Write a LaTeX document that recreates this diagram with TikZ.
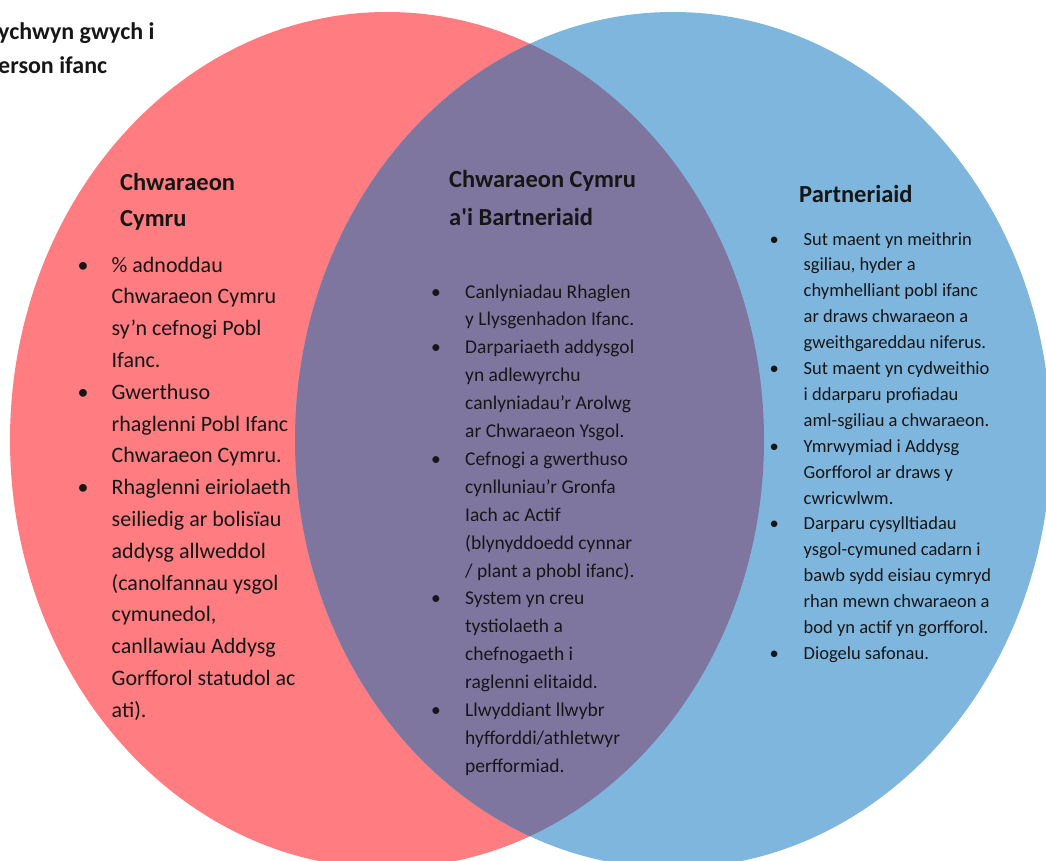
\documentclass[tikz,border=0pt]{standalone}
\usepackage{fontspec}
\setmainfont{Carlito}
\definecolor{vennred}{RGB}{255,124,128}
\definecolor{vennblue}{RGB}{126,182,222}
\definecolor{vennpurple}{RGB}{127,118,160}
\definecolor{inktext}{RGB}{22,22,22}
% one line with a bullet, one line that carries on
\newcommand{\bitem}[1]{\hbox{\makebox[34pt][l]{\textbullet}#1}}
\newcommand{\bcont}[1]{\hbox{\hspace*{34pt}#1}}
\begin{document}
\begin{tikzpicture}[x=1pt,y=-1pt,
	txt/.style={anchor=base west, inner sep=0pt, text=inktext}]
	\useasboundingbox (0,0) rectangle (1046,861);
	\clip (0,0) rectangle (1046,861);

	\fill[vennred] (387,440) ellipse [x radius=377pt, y radius=428pt];
	\fill[vennblue] (673,440) ellipse [x radius=378pt, y radius=428pt];
	\begin{scope}
		\clip (387,440) ellipse [x radius=377pt, y radius=428pt];
		\fill[vennpurple] (673,440) ellipse [x radius=378pt, y radius=428pt];
	\end{scope}

	\node[txt] (intro) at (-2,40) {\vtop{\fontsize{24}{34}\selectfont\bfseries
		\hbox{ychwyn gwych i}\hbox{erson ifanc}}};

	% left circle
	\node[txt] (lefthead) at (120,190) {\vtop{\fontsize{24.5}{36}\selectfont\bfseries
		\hbox{Chwaraeon}\hbox{Cymru}}};
	\node[txt] (leftlist) at (77.5,272) {\vtop{\fontsize{22}{31.8}\selectfont
		\bitem{\% adnoddau}
		\bcont{Chwaraeon Cymru}
		\bcont{sy’n cefnogi Pobl}
		\bcont{Ifanc.}
		\bitem{Gwerthuso}
		\bcont{rhaglenni Pobl Ifanc}
		\bcont{Chwaraeon Cymru.}
		\bitem{Rhaglenni eiriolaeth}
		\bcont{seiliedig ar bolisïau}
		\bcont{addysg allweddol}
		\bcont{(canolfannau ysgol}
		\bcont{cymunedol,}
		\bcont{canllawiau Addysg}
		\bcont{Gorfforol statudol ac}
		\bcont{ati).}}};

	% overlap
	\node[txt] (midhead) at (449,188) {\vtop{\fontsize{24.5}{37}\selectfont\bfseries
		\hbox{Chwaraeon Cymru}\hbox{a\textquotesingle i Bartneriaid}}};
	\node[txt] (midlist) at (431,298) {\vtop{\fontsize{19.5}{27.9}\selectfont
		\bitem{Canlyniadau Rhaglen}
		\bcont{y Llysgenhadon Ifanc.}
		\bitem{Darpariaeth addysgol}
		\bcont{yn adlewyrchu}
		\bcont{canlyniadau’r Arolwg}
		\bcont{ar Chwaraeon Ysgol.}
		\bitem{Cefnogi a gwerthuso}
		\bcont{cynlluniau’r Gronfa}
		\bcont{Iach ac Actif}
		\bcont{(blynyddoedd cynnar}
		\bcont{/ plant a phobl ifanc).}
		\bitem{System yn creu}
		\bcont{tystiolaeth a}
		\bcont{chefnogaeth i}
		\bcont{raglenni elitaidd.}
		\bitem{Llwyddiant llwybr}
		\bcont{hyfforddi/athletwyr}
		\bcont{perfformiad.}}};

	% right circle
	\node[txt] (righthead) at (799,202) {\vtop{\fontsize{24.5}{36}\selectfont\bfseries
		\hbox{Partneriaid}}};
	\node[txt] (rightlist) at (769.5,245) {\vtop{\fontsize{18.5}{25.9}\selectfont
		\bitem{Sut maent yn meithrin}
		\bcont{sgiliau, hyder a}
		\bcont{chymhelliant pobl ifanc}
		\bcont{ar draws chwaraeon a}
		\bcont{gweithgareddau niferus.}
		\bitem{Sut maent yn cydweithio}
		\bcont{i ddarparu profiadau}
		\bcont{aml-sgiliau a chwaraeon.}
		\bitem{Ymrwymiad i Addysg}
		\bcont{Gorfforol ar draws y}
		\bcont{cwricwlwm.}
		\bitem{Darparu cysylltiadau}
		\bcont{ysgol-cymuned cadarn i}
		\bcont{bawb sydd eisiau cymryd}
		\bcont{rhan mewn chwaraeon a}
		\bcont{bod yn actif yn gorfforol.}
		\bitem{Diogelu safonau.}}};

\end{tikzpicture}
\end{document}
